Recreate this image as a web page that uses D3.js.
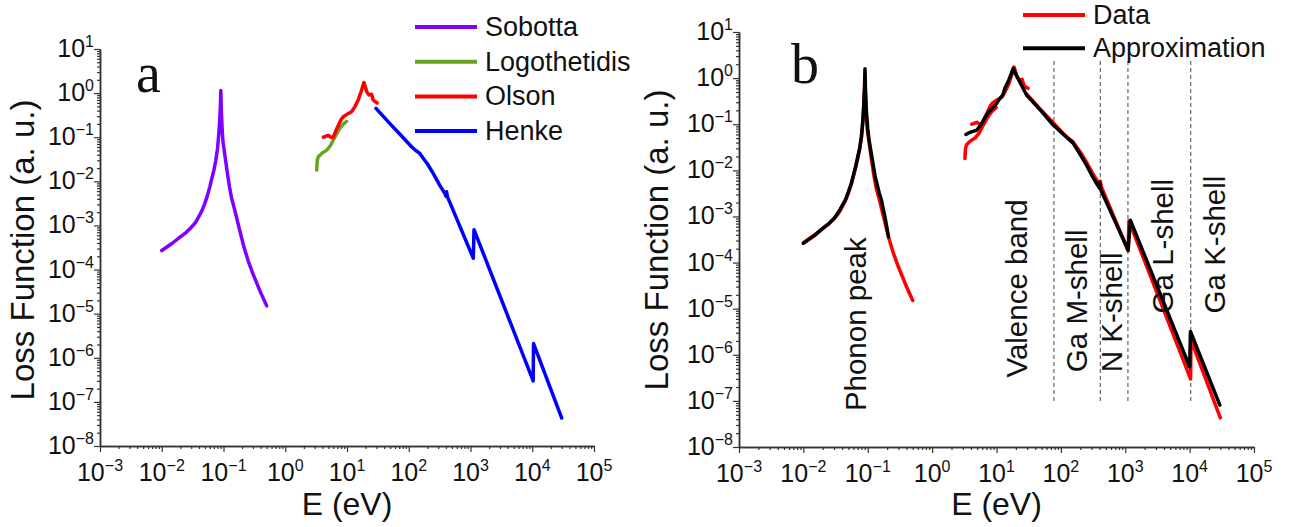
<!DOCTYPE html>
<html>
<head>
<meta charset="utf-8">
<script src="https://cdn.jsdelivr.net/npm/d3@7"></script>
<style>
  body { margin: 0; background: #fff; }
  text { font-family: "Liberation Sans", Arial, sans-serif; fill: #111; }
  .domain { stroke: #333; stroke-width: 1.5; }
  .tick line { stroke: #333; stroke-width: 1.2; }
</style>
</head>
<body>
<script>
var width = 1296,
	height = 527;

// ---- data (E in eV, loss function in a.u.) ----
var sobotta = [[0.01,2.7e-4],[0.015,4e-4],[0.02,5.5e-4],[0.025,7e-4],[0.03,9e-4],[0.035,1.15e-3],[0.04,1.6e-3],
	[0.045,2.2e-3],[0.05,3.2e-3],[0.055,4.8e-3],[0.06,7.5e-3],[0.065,0.012],[0.07,0.018],[0.075,0.03],
	[0.08,0.055],[0.084,0.12],[0.087,0.25],[0.089,0.5],[0.0905,1.15],[0.092,0.45],[0.095,0.15],
	[0.098,0.08],[0.105,0.04],[0.115,0.016],[0.125,7.5e-3],[0.135,4.2e-3],[0.15,2.4e-3],[0.175,1e-3],
	[0.21,3.6e-4],[0.25,1.6e-4],[0.3,8e-5],[0.4,3e-5],[0.5,1.5e-5]];
var logothetidis = [[3.23,0.018],[3.3,0.03],[3.43,0.036],[3.9,0.043],[4.7,0.051],[5.4,0.065],
	[6.0,0.087],[6.8,0.12],[7.7,0.16],[8.8,0.2],[9.9,0.23]];
var olson = [[4.14,0.10],[4.5,0.105],[5.0,0.11],[5.5,0.1],[6.0,0.10],[6.6,0.14],[7.3,0.19],[8.0,0.25],
	[8.7,0.29],[10,0.33],[11.9,0.38],[13.5,0.5],[15.2,0.70],[17,1.1],[18.8,1.73],[20,1.3],[20.9,1.07],
	[22.7,0.91],[25,0.94],[26.6,0.7],[28,0.65],[30.8,0.6]];
var henke = [[29.5,0.45],[50,0.2],[80,0.1],[111,0.061],[130,0.05],[151,0.043],[175,0.032],[200,0.025],
	[250,0.015],[320,8e-3],[386,5.3e-3],[400,4.6e-3],[410,5.8e-3],[425,4.4e-3],[468,3.2e-3],[1110,1.8e-4],
	[1140,8e-4],[10350,3e-7],[10500,2.1e-6],[30000,4.3e-8]];
var phononApprox = [[0.01,2.6e-4],[0.015,3.9e-4],[0.02,5.5e-4],[0.025,7e-4],[0.03,9e-4],[0.037,1.4e-3],
	[0.045,2.3e-3],[0.05,3.4e-3],[0.055,5e-3],[0.06,7.9e-3],[0.065,0.012],[0.07,0.02],[0.075,0.03],
	[0.08,0.055],[0.084,0.12],[0.087,0.3],[0.089,0.6],[0.0906,1.6],[0.092,0.6],[0.095,0.2],[0.1,0.08],
	[0.105,0.045],[0.115,0.021],[0.13,7.5e-3],[0.15,3.3e-3],[0.165,2.1e-3],[0.19,8e-4],[0.21,3.6e-4]];
var valenceApprox = [[3.35,0.06],[3.8,0.066],[4.3,0.07],[4.9,0.074],[5.8,0.1],[7,0.16],[8.5,0.22],
	[10,0.28],[11.2,0.36],[12.5,0.42],[13.5,0.6],[15.5,0.9],[18.2,1.63],[20,1.2],[23,0.83],[29.3,0.43],
	[50,0.19],[76,0.096],[110,0.06],[155,0.039],[200,0.022],[250,0.013],[300,8e-3],[355,5.3e-3],
	[395,4.2e-3],[402,5.5e-3],[410,4.0e-3],[1110,1.85e-4],[1200,8.3e-4],[10000,5.5e-7],[10300,3.2e-6],
	[29500,8.1e-8]];

var legendA = ["Sobotta", "Logothetidis", "Olson", "Henke"];
var coloursA = ["#8000ff", "#66a61e", "#ff0000", "#0000ff"];
var legendB = ["Data", "Approximation"];
var coloursB = ["#ff0000", "#000000"];

var edgeE = [78, 410, 1100, 10400];          // dashed edge markers
var edgeSpan = [1e-7, 2.5];
var notes = ["Phonon peak", "Valence band", "Ga M-shell", "N K-shell", "Ga L-shell", "Ga K-shell"];
var noteE = [0.093, 29.5, 254, 885, 5480, 35200];
var noteV = [6e-8, 3.2e-7, 4.2e-7, 4.2e-7, 7.9e-6, 7.9e-6];

var xExp = d3.range(-3, 6),
	yExp = d3.range(-8, 2);

var svg = d3.select("body").append("svg")
	.attr("width", width)
	.attr("height", height);

function expStr(k) { return k < 0 ? "\u2212" + (-k) : "" + k; }

function minors(lo, hi) {
	var out = [];
	for (var k = lo; k < hi; k++)
		for (var m = 2; m < 10; m++) out.push(m * Math.pow(10, k));
	return out;
}

function panel(xr, yr) {
	var x = d3.scaleLog().domain([1e-3, 1e5]).range(xr),
		y = d3.scaleLog().domain([1e-8, 1e1]).range(yr);
	var g = svg.append("g");

	var gx = g.append("g").attr("transform", "translate(0," + yr[0] + ")");
	gx.call(d3.axisBottom(x).tickValues(minors(-3, 5)).tickSize(3).tickSizeOuter(0).tickFormat(""));
	gx.append("g").call(d3.axisBottom(x).tickValues(xExp.map(function(k){ return Math.pow(10,k); }))
		.tickSize(6).tickSizeOuter(0).tickFormat(""));

	var gy = g.append("g").attr("transform", "translate(" + xr[0] + ",0)");
	gy.call(d3.axisLeft(y).tickValues(minors(-8, 1)).tickSize(3).tickSizeOuter(0).tickFormat(""));
	gy.append("g").call(d3.axisLeft(y).tickValues(yExp.map(function(k){ return Math.pow(10,k); }))
		.tickSize(6).tickSizeOuter(0).tickFormat(""));

	xExp.forEach(function(k) {
		var t = g.append("text").attr("x", x(Math.pow(10, k))).attr("y", yr[0] + 35)
			.attr("text-anchor", "middle").style("font-size", "25px");
		t.append("tspan").text("10");
		t.append("tspan").attr("dy", -10).style("font-size", "16px").text(expStr(k));
	});
	yExp.forEach(function(k) {
		var t = g.append("text").attr("x", xr[0] - 6).attr("y", y(Math.pow(10, k)) + 8)
			.attr("text-anchor", "end").style("font-size", "25px");
		t.append("tspan").text("10");
		t.append("tspan").attr("dy", -10).style("font-size", "16px").text(expStr(k));
	});

	g.append("text").attr("x", (xr[0] + xr[1]) / 2).attr("y", 515)
		.attr("text-anchor", "middle").style("font-size", "32px").text("E (eV)");
	return {g: g, x: x, y: y};
}

function draw(p, data, colour) {
	var line = d3.line()
		.x(function(d) { return p.x(d[0]); })
		.y(function(d) { return p.y(d[1]); });
	p.g.append("path").datum(data)
		.attr("d", line)
		.attr("fill", "none")
		.attr("stroke", colour)
		.attr("stroke-width", 3.5)
		.attr("stroke-linejoin", "round")
		.attr("stroke-linecap", "round");
}

// ---- panel a ----
var a = panel([100, 594], [446, 49]);
svg.append("text").attr("transform", "translate(34,250) rotate(-90)")
	.attr("text-anchor", "middle").style("font-size", "33px").text("Loss Function (a. u.)");
svg.append("text").attr("x", 136).attr("y", 92)
	.style("font-family", "'Liberation Serif', 'Times New Roman', serif").style("font-size", "56px").text("a");

[sobotta, logothetidis, olson, henke].forEach(function(s, i) { draw(a, s, coloursA[i]); });

legendA.forEach(function(name, i) {
	var yy = 27 + i * 34.7;
	svg.append("line").attr("x1", 415).attr("x2", 477).attr("y1", yy).attr("y2", yy)
		.attr("stroke", coloursA[i]).attr("stroke-width", 4);
	svg.append("text").attr("x", 485).attr("y", yy + 9).style("font-size", "27px").text(name);
});

// ---- panel b ----
var b = panel([739, 1254], [447, 32]);
svg.append("text").attr("transform", "translate(668,240) rotate(-90)")
	.attr("text-anchor", "middle").style("font-size", "33px").text("Loss Function (a. u.)");
svg.append("text").attr("x", 791).attr("y", 83)
	.style("font-family", "'Liberation Serif', 'Times New Roman', serif").style("font-size", "56px").text("b");

edgeE.forEach(function(e) {
	b.g.append("line")
		.attr("x1", b.x(e)).attr("x2", b.x(e))
		.attr("y1", b.y(edgeSpan[0])).attr("y2", b.y(edgeSpan[1]))
		.attr("stroke", "#666").attr("stroke-width", 1.2).attr("stroke-dasharray", "4,3");
});

[sobotta, logothetidis, olson, henke].forEach(function(s) { draw(b, s, coloursB[0]); });
[phononApprox, valenceApprox].forEach(function(s) { draw(b, s, coloursB[1]); });

notes.forEach(function(n, i) {
	b.g.append("text")
		.attr("transform", "translate(" + b.x(noteE[i]) + "," + b.y(noteV[i]) + ") rotate(-90)")
		.style("font-size", "29.5px").text(n);
});

legendB.forEach(function(name, i) {
	var yy = 15 + i * 33.3;
	svg.append("line").attr("x1", 1023).attr("x2", 1085).attr("y1", yy).attr("y2", yy)
		.attr("stroke", coloursB[i]).attr("stroke-width", 4);
	svg.append("text").attr("x", 1093).attr("y", yy + 9).style("font-size", "27px").text(name);
});
</script>
</body>
</html>
